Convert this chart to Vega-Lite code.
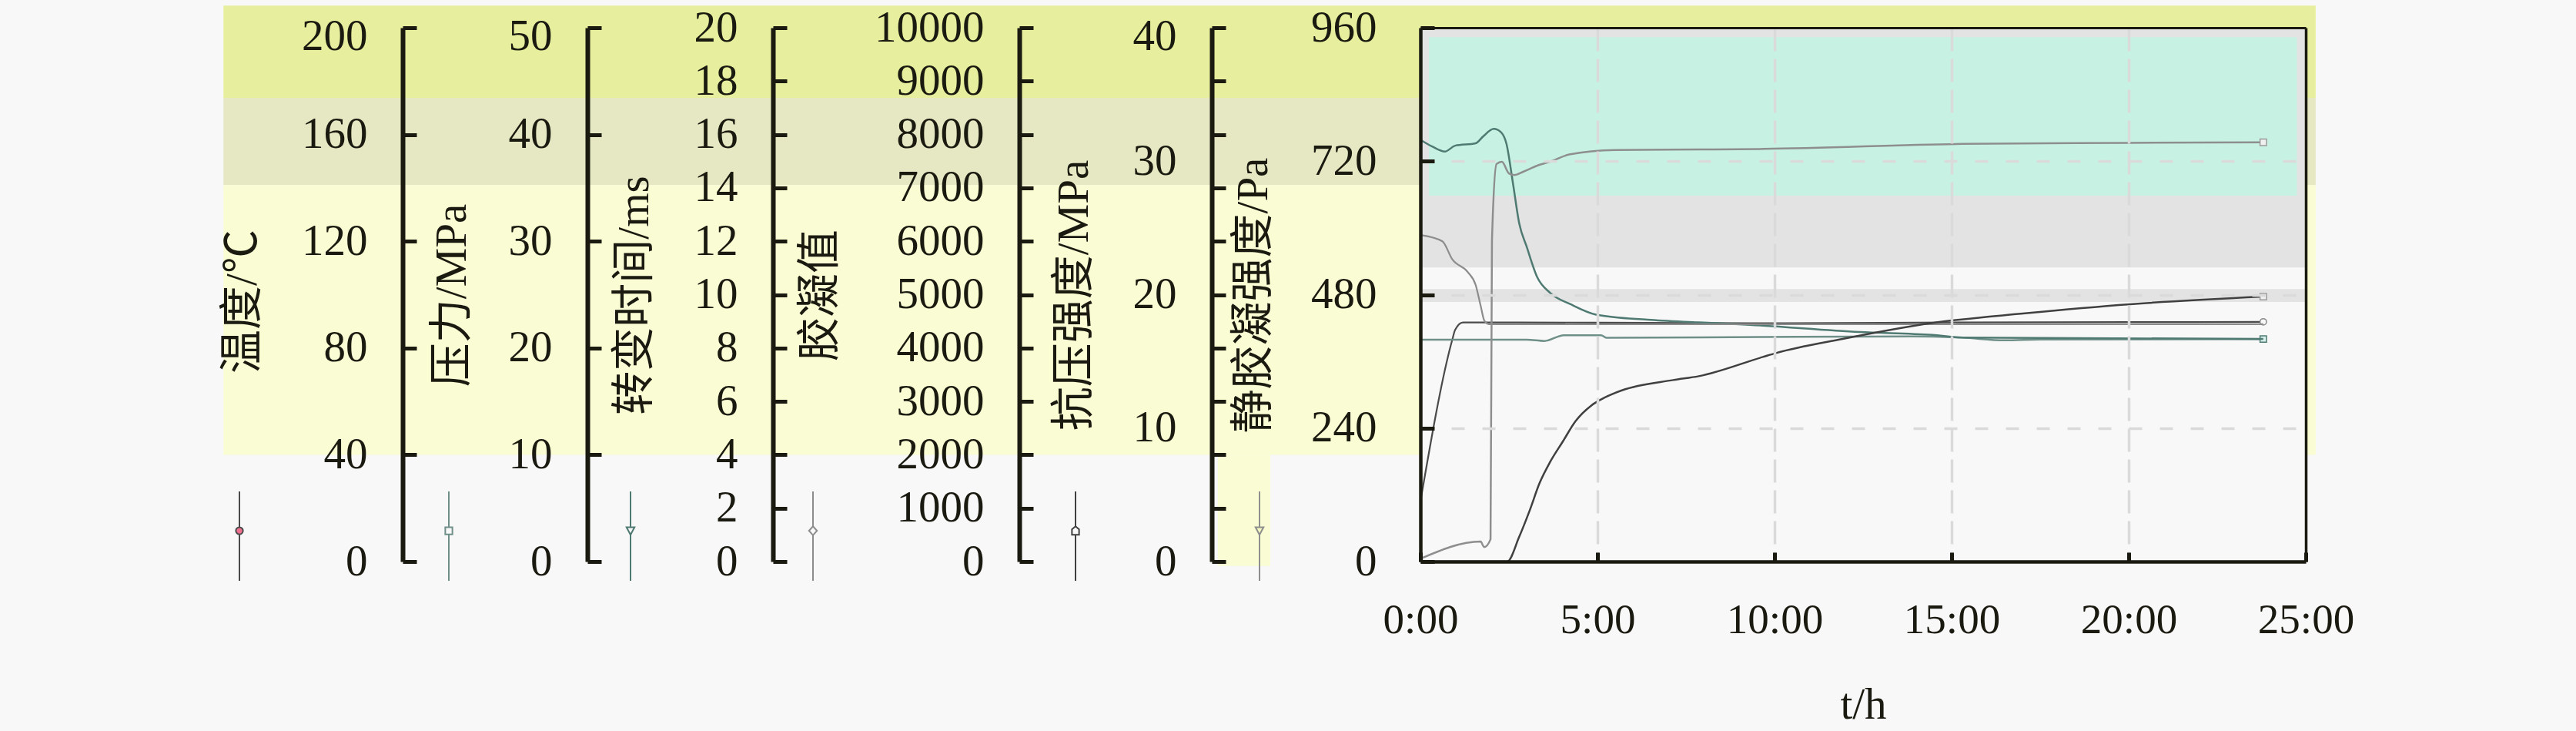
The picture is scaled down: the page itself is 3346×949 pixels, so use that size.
{
  "$schema": "https://vega.github.io/schema/vega-lite/v6.json",
  "width": 1150,
  "height": 693,
  "autosize": {"type": "none"},
  "padding": {"left": 1845, "top": 36, "right": 351, "bottom": 220},
  "background": "#f8f8f8",
  "config": {
    "view": {"stroke": null},
    "axis": {
      "labelFont": "Liberation Serif",
      "labelFontSize": 57,
      "labelColor": "#1a1a10",
      "titleFont": "Liberation Serif, Noto Sans CJK SC",
      "titleFontSize": 57,
      "titleFontWeight": "normal",
      "titleColor": "#1a1a10",
      "domainColor": "#1a1a10",
      "tickColor": "#1a1a10",
      "grid": false,
      "labelOverlap": false,
      "labelBound": false
    },
    "axisY": {
      "domainWidth": 6,
      "tickSize": -18,
      "tickWidth": 5,
      "titleAngle": 270,
      "titleAlign": "center",
      "titleBaseline": "middle",
      "labelFlush": false
    },
    "legend": {"padding": 0, "offset": 0, "symbolStrokeWidth": 2, "labelFontSize": 10},
    "point": {"filled": true, "size": 70, "strokeWidth": 1.5, "opacity": 1}
  },
  "datasets": {
    "bands": [
      {"zone": "outer1", "t": -33.8, "t2": 25.28, "v": 834, "v2": 1000},
      {"zone": "outer2", "t": -33.8, "t2": 25.28, "v": 677, "v2": 834},
      {"zone": "outer3", "t": -33.8, "t2": 25.28, "v": 192, "v2": 677},
      {"zone": "outer3", "t": -5.72, "t2": -4.24, "v": -8, "v2": 192},
      {"zone": "plot", "t": 0, "t2": 25, "v": 0, "v2": 960},
      {"zone": "gray", "t": 0, "t2": 25, "v": 529, "v2": 960},
      {"zone": "teal", "t": 0.24, "t2": 24.75, "v": 658, "v2": 943},
      {"zone": "strip", "t": 0, "t2": 25, "v": 467, "v2": 490}
    ],
    "obs": [
      {"s": "温度", "t": 0, "v": 22.5},
      {"s": "温度", "t": 0.9, "v": 83.1},
      {"s": "温度", "t": 0.98, "v": 86.8},
      {"s": "温度", "t": 1.2, "v": 89.6},
      {"s": "温度", "t": 5, "v": 89.5},
      {"s": "温度", "t": 10, "v": 89.3},
      {"s": "温度", "t": 15, "v": 89.6},
      {"s": "温度", "t": 20, "v": 89.7},
      {"s": "温度", "t": 23.8, "v": 89.8},

      {"s": "压力", "t": 0, "v": 20.78},
      {"s": "压力", "t": 3.0, "v": 20.78},
      {"s": "压力", "t": 3.5, "v": 20.66},
      {"s": "压力", "t": 4.05, "v": 21.2},
      {"s": "压力", "t": 5.1, "v": 21.2},
      {"s": "压力", "t": 5.25, "v": 20.96},
      {"s": "压力", "t": 9.7, "v": 21.04},
      {"s": "压力", "t": 13.9, "v": 21.09},
      {"s": "压力", "t": 15.3, "v": 20.97},
      {"s": "压力", "t": 16.5, "v": 20.72},
      {"s": "压力", "t": 17.5, "v": 20.8},
      {"s": "压力", "t": 23.8, "v": 20.84},

      {"s": "转变时间", "t": 0, "v": 15.8},
      {"s": "转变时间", "t": 0.33, "v": 15.55},
      {"s": "转变时间", "t": 0.69, "v": 15.36},
      {"s": "转变时间", "t": 0.98, "v": 15.58},
      {"s": "转变时间", "t": 1.56, "v": 15.67},
      {"s": "转变时间", "t": 1.78, "v": 15.94},
      {"s": "转变时间", "t": 2.07, "v": 16.21},
      {"s": "转变时间", "t": 2.28, "v": 16.08},
      {"s": "转变时间", "t": 2.43, "v": 15.65},
      {"s": "转变时间", "t": 2.61, "v": 14.2},
      {"s": "转变时间", "t": 2.79, "v": 12.67},
      {"s": "转变时间", "t": 3.0, "v": 11.8},
      {"s": "转变时间", "t": 3.3, "v": 10.65},
      {"s": "转变时间", "t": 3.66, "v": 10.07},
      {"s": "转变时间", "t": 4.24, "v": 9.64},
      {"s": "转变时间", "t": 4.96, "v": 9.25},
      {"s": "转变时间", "t": 6.41, "v": 9.06},
      {"s": "转变时间", "t": 7.86, "v": 8.96},
      {"s": "转变时间", "t": 9.3, "v": 8.87},
      {"s": "转变时间", "t": 12.4, "v": 8.6},
      {"s": "转变时间", "t": 14.46, "v": 8.49},
      {"s": "转变时间", "t": 15.33, "v": 8.39},
      {"s": "转变时间", "t": 23.8, "v": 8.34},

      {"s": "胶凝值", "t": 0, "v": 6117},
      {"s": "胶凝值", "t": 0.62, "v": 6000},
      {"s": "胶凝值", "t": 0.9, "v": 5661},
      {"s": "胶凝值", "t": 1.34, "v": 5421},
      {"s": "胶凝值", "t": 1.56, "v": 5180},
      {"s": "胶凝值", "t": 1.7, "v": 4795},
      {"s": "胶凝值", "t": 1.81, "v": 4506},
      {"s": "胶凝值", "t": 1.95, "v": 4445},
      {"s": "胶凝值", "t": 23.8, "v": 4445},

      {"s": "抗压强度", "t": 0, "v": 0},
      {"s": "抗压强度", "t": 2.45, "v": 0},
      {"s": "抗压强度", "t": 2.79, "v": 1.86},
      {"s": "抗压强度", "t": 3.08, "v": 3.79},
      {"s": "抗压强度", "t": 3.37, "v": 5.91},
      {"s": "抗压强度", "t": 3.66, "v": 7.45},
      {"s": "抗压强度", "t": 4.02, "v": 8.99},
      {"s": "抗压强度", "t": 4.38, "v": 10.52},
      {"s": "抗压强度", "t": 4.82, "v": 11.68},
      {"s": "抗压强度", "t": 5.11, "v": 12.16},
      {"s": "抗压强度", "t": 5.69, "v": 12.83},
      {"s": "抗压强度", "t": 7.14, "v": 13.6},
      {"s": "抗压强度", "t": 7.86, "v": 13.89},
      {"s": "抗压强度", "t": 9.67, "v": 15.33},
      {"s": "抗压强度", "t": 10.04, "v": 15.62},
      {"s": "抗压强度", "t": 11.92, "v": 16.68},
      {"s": "抗压强度", "t": 14.46, "v": 17.88},
      {"s": "抗压强度", "t": 17.07, "v": 18.6},
      {"s": "抗压强度", "t": 20.04, "v": 19.28},
      {"s": "抗压强度", "t": 23.8, "v": 19.85},

      {"s": "静胶凝强度", "t": 0, "v": 5},
      {"s": "静胶凝强度", "t": 1.7, "v": 36},
      {"s": "静胶凝强度", "t": 1.8, "v": 26},
      {"s": "静胶凝强度", "t": 1.98, "v": 40},
      {"s": "静胶凝强度", "t": 2.02, "v": 576},
      {"s": "静胶凝强度", "t": 2.15, "v": 715},
      {"s": "静胶凝强度", "t": 2.3, "v": 719},
      {"s": "静胶凝强度", "t": 2.5, "v": 698},
      {"s": "静胶凝强度", "t": 2.65, "v": 695},
      {"s": "静胶凝强度", "t": 2.9, "v": 701},
      {"s": "静胶凝强度", "t": 3.3, "v": 712},
      {"s": "静胶凝强度", "t": 3.7, "v": 720},
      {"s": "静胶凝强度", "t": 4.2, "v": 732},
      {"s": "静胶凝强度", "t": 5.5, "v": 740},
      {"s": "静胶凝强度", "t": 7.9, "v": 741},
      {"s": "静胶凝强度", "t": 9.7, "v": 742},
      {"s": "静胶凝强度", "t": 15.3, "v": 751},
      {"s": "静胶凝强度", "t": 20, "v": 753},
      {"s": "静胶凝强度", "t": 23.8, "v": 754}
    ]
  },
  "encoding": {
    "x": {
      "field": "t",
      "type": "quantitative",
      "scale": {"domain": [0, 25], "nice": false, "zero": false},
      "axis": {
        "zindex": 1,
        "values": [0, 5, 10, 15, 20, 25],
        "labelExpr": "datum.value + ':00'",
        "labelFlush": false,
        "labelFontSize": 55,
        "labelPadding": 61,
        "tickSize": -12,
        "tickWidth": 5,
        "domainWidth": 4.5,
        "grid": true,
        "gridColor": {"condition": {"test": "datum.value === 25", "value": "#1a1a10"}, "value": "#dadada"},
        "gridWidth": 3.5,
        "gridDash": {"condition": {"test": "datum.value === 25", "value": [1, 0]}, "value": [30, 10]},
        "gridOpacity": {"condition": {"test": "datum.value > 0", "value": 1}, "value": 0},
        "title": "t/h",
        "titleX": 575,
        "titleY": 203,
        "titleAlign": "center",
        "titleBaseline": "alphabetic",
        "titleFont": "Liberation Serif"
      }
    }
  },
  "layer": [
    {
      "data": {"name": "bands"},
      "mark": {"type": "rect"},
      "encoding": {
        "x2": {"field": "t2"},
        "y": {"field": "v", "type": "quantitative", "scale": {"domain": [0, 960], "nice": false}, "axis": null},
        "y2": {"field": "v2"},
        "color": {
          "field": "zone",
          "type": "nominal",
          "scale": {
            "domain": ["outer1", "outer2", "outer3", "plot", "gray", "teal", "strip"],
            "range": ["#e7ef9e", "#e5e8c2", "#fafcd4", "#f8f8f8", "#e3e3e3", "#c7f2e3", "#e3e3e3"]
          },
          "legend": null
        }
      }
    },
    {
      "data": {"name": "obs"},
      "transform": [{"filter": "datum.s === '温度'"}],
      "encoding": {
        "y": {
          "field": "v", "type": "quantitative",
          "scale": {"domain": [0, 200], "nice": false},
          "axis": {
            "zindex": 1,
            "orient": "left", "offset": 1322,
            "values": [0, 40, 80, 120, 160, 200],
            "labelPadding": 64,
            "labelOffset": {"condition": {"test": "datum.value === 200", "value": 11}, "value": 0},
            "title": "温度/℃", "titleX": -208, "titleY": 355
          }
        },
        "color": {
          "datum": "温度",
          "scale": {"domain": ["温度"], "range": ["#4a4a4a"]},
          "legend": {
            "orient": "none", "legendX": -1593, "legendY": 601, "title": null, "labelExpr": "''",
            "symbolType": "M0,-1V-0.2M0,-0.04V1M0.08,-0.12A0.08,0.08,0,1,1,-0.08,-0.12A0.08,0.08,0,1,1,0.08,-0.12Z",
            "symbolSize": 13456, "symbolStrokeColor": "#666666", "symbolFillColor": "#f07090"
          }
        }
      },
      "layer": [
        {"mark": {"type": "line", "strokeWidth": 2.2, "interpolate": "monotone"}},
        {"transform": [{"filter": "datum.t === 23.8"}], "mark": {"type": "point", "shape": "circle", "stroke": "#8a8a8a"}, "encoding": {"color": {"value": "#f8f8f8"}}}
      ]
    },
    {
      "data": {"name": "obs"},
      "transform": [{"filter": "datum.s === '压力'"}],
      "encoding": {
        "y": {
          "field": "v", "type": "quantitative",
          "scale": {"domain": [0, 50], "nice": false},
          "axis": {
            "zindex": 1,
            "orient": "left", "offset": 1082,
            "values": [0, 10, 20, 30, 40, 50],
            "labelPadding": 64,
            "labelOffset": {"condition": {"test": "datum.value === 50", "value": 11}, "value": 0},
            "title": "压力/MPa", "titleX": -176, "titleY": 347
          }
        },
        "color": {
          "datum": "压力",
          "scale": {"domain": ["压力"], "range": ["#6f8f89"]},
          "legend": {
            "orient": "none", "legendX": -1321, "legendY": 601, "title": null, "labelExpr": "''",
            "symbolType": "M0,-1V-0.2M0,-0.04V1M-0.08,-0.2H0.08V-0.04H-0.08Z",
            "symbolSize": 13456, "symbolStrokeColor": "#999999", "symbolFillColor": "#f8f8f8"
          }
        }
      },
      "layer": [
        {"mark": {"type": "line", "strokeWidth": 2.5, "interpolate": "monotone"}},
        {"transform": [{"filter": "datum.t === 23.8"}], "mark": {"type": "point", "shape": "square", "stroke": "#4e7a72"}, "encoding": {"color": {"value": "#d8f0ea"}}}
      ]
    },
    {
      "data": {"name": "obs"},
      "transform": [{"filter": "datum.s === '转变时间'"}],
      "encoding": {
        "y": {
          "field": "v", "type": "quantitative",
          "scale": {"domain": [0, 20], "nice": false},
          "axis": {
            "zindex": 1,
            "orient": "left", "offset": 841,
            "values": [0, 2, 4, 6, 8, 10, 12, 14, 16, 18, 20],
            "labelPadding": 64,
            "title": "转变时间/ms", "titleX": -180, "titleY": 347
          }
        },
        "color": {
          "datum": "转变时间",
          "scale": {"domain": ["转变时间"], "range": ["#4e7a72"]},
          "legend": {
            "orient": "none", "legendX": -1085, "legendY": 601, "title": null, "labelExpr": "''",
            "symbolType": "M0,-1V-0.2M0,-0.03V1M-0.09,-0.2H0.09L0,-0.03Z",
            "symbolSize": 13456, "symbolStrokeColor": "#555555", "symbolFillColor": "#f8f8f8"
          }
        }
      },
      "layer": [
        {"mark": {"type": "line", "strokeWidth": 2.5, "interpolate": "monotone"}}
      ]
    },
    {
      "data": {"name": "obs"},
      "transform": [{"filter": "datum.s === '胶凝值'"}],
      "encoding": {
        "y": {
          "field": "v", "type": "quantitative",
          "scale": {"domain": [0, 10000], "nice": false},
          "axis": {
            "zindex": 1,
            "orient": "left", "offset": 521,
            "values": [0, 1000, 2000, 3000, 4000, 5000, 6000, 7000, 8000, 9000, 10000],
            "format": "d",
            "labelPadding": 64,
            "title": "胶凝值", "titleX": -259, "titleY": 347
          }
        },
        "color": {
          "datum": "胶凝值",
          "scale": {"domain": ["胶凝值"], "range": ["#8c8c8c"]},
          "legend": {
            "orient": "none", "legendX": -848, "legendY": 601, "title": null, "labelExpr": "''",
            "symbolType": "M0,-1V-0.22M0,-0.02V1M0,-0.22L0.09,-0.12L0,-0.02L-0.09,-0.12Z",
            "symbolSize": 13456, "symbolStrokeColor": "#888888", "symbolFillColor": "#f8f8f8"
          }
        }
      },
      "layer": [
        {"mark": {"type": "line", "strokeWidth": 2.2, "interpolate": "monotone"}}
      ]
    },
    {
      "data": {"name": "obs"},
      "transform": [{"filter": "datum.s === '抗压强度'"}],
      "encoding": {
        "y": {
          "field": "v", "type": "quantitative",
          "scale": {"domain": [0, 40], "nice": false},
          "axis": {
            "zindex": 1,
            "orient": "left", "offset": 271,
            "values": [0, 2, 4, 6, 8, 10, 12, 14, 16, 18, 20, 22, 24, 26, 28, 30, 32, 34, 36, 38, 40],
            "labelExpr": "datum.value % 10 === 0 ? datum.label : ''",
            "tickOpacity": {"condition": {"test": "datum.value % 4 === 0", "value": 1}, "value": 0},
            "labelPadding": 64,
            "labelOffset": {"condition": {"test": "datum.value === 40", "value": 11}, "value": 0},
            "title": "抗压强度/MPa", "titleX": -179, "titleY": 347
          }
        },
        "color": {
          "datum": "抗压强度",
          "scale": {"domain": ["抗压强度"], "range": ["#404040"]},
          "legend": {
            "orient": "none", "legendX": -507, "legendY": 601, "title": null, "labelExpr": "''",
            "symbolType": "M0,-1V-0.22M0,-0.03V1M0,-0.22L0.08,-0.15V-0.03H-0.08V-0.15Z",
            "symbolSize": 13456, "symbolStrokeColor": "#555555", "symbolFillColor": "#f8f8f8"
          }
        }
      },
      "layer": [
        {"mark": {"type": "line", "strokeWidth": 2.5, "interpolate": "monotone"}},
        {"transform": [{"filter": "datum.t === 23.8"}], "mark": {"type": "point", "shape": "square", "stroke": "#9a9a9a"}, "encoding": {"color": {"value": "#f0f0f0"}}}
      ]
    },
    {
      "data": {"name": "obs"},
      "transform": [{"filter": "datum.s === '静胶凝强度'"}],
      "encoding": {
        "y": {
          "field": "v", "type": "quantitative",
          "scale": {"domain": [0, 960], "nice": false},
          "axis": {
            "zindex": 1,
            "orient": "left", "offset": 0,
            "values": [0, 240, 480, 720, 960],
            "domainWidth": 4.5,
            "labelPadding": 75,
            "grid": true,
            "gridColor": {"condition": {"test": "datum.value === 960", "value": "#1a1a10"}, "value": "#dadada"},
            "gridWidth": {"condition": {"test": "datum.value === 960", "value": 3}, "value": 3.5},
            "gridDash": {"condition": {"test": "datum.value === 960", "value": [1, 0]}, "value": [17, 23]},
            "gridOpacity": {"condition": {"test": "datum.value > 0", "value": 1}, "value": 0},
            "title": "静胶凝强度/Pa", "titleX": -217, "titleY": 347
          }
        },
        "color": {
          "datum": "静胶凝强度",
          "scale": {"domain": ["静胶凝强度"], "range": ["#8e8e8e"]},
          "legend": {
            "orient": "none", "legendX": -268, "legendY": 601, "title": null, "labelExpr": "''",
            "symbolType": "M0,-1V-0.2M0,-0.03V1M-0.09,-0.2H0.09L0,-0.03Z",
            "symbolSize": 13456, "symbolStrokeColor": "#a3a36a", "symbolFillColor": "#f4f8c0"
          }
        }
      },
      "layer": [
        {"mark": {"type": "line", "strokeWidth": 2.5, "interpolate": "monotone"}},
        {"transform": [{"filter": "datum.t === 23.8"}], "mark": {"type": "point", "shape": "square", "stroke": "#9a9a9a"}, "encoding": {"color": {"value": "#f0f0f0"}}}
      ]
    }
  ],
  "resolve": {
    "scale": {"y": "independent", "color": "independent"},
    "axis": {"y": "independent"},
    "legend": {"color": "independent"}
  }
}
